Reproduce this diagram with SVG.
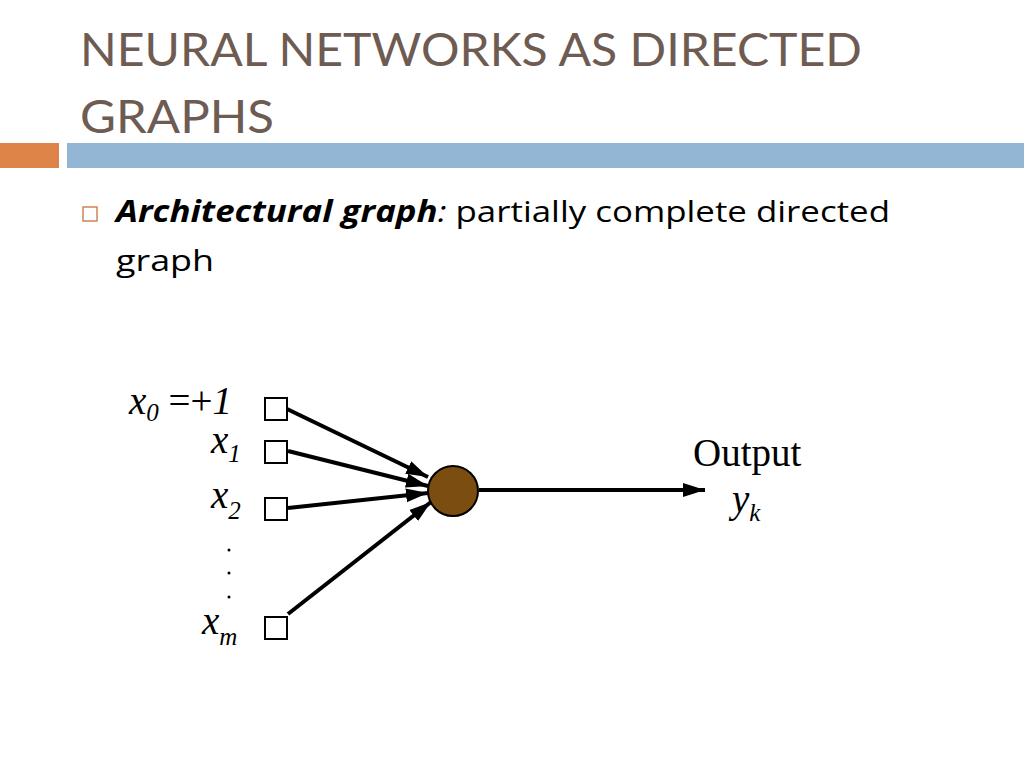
<svg xmlns="http://www.w3.org/2000/svg" width="1024" height="768" viewBox="0 0 1024 768">
<defs>
<marker id="arr" markerUnits="userSpaceOnUse" markerWidth="24" markerHeight="16" refX="22" refY="8" orient="auto">
<path d="M0,1 L22,8 L0,15 Z" fill="#000"/>
</marker>
<style>
.title{font-family:"Lato","Noto Sans",sans-serif;font-size:46px;fill:#6e5b52;}
.body{font-family:"Open Sans","Noto Sans",sans-serif;font-size:30px;fill:#000;font-variant-ligatures:none;}
.m{font-family:"Liberation Serif","Times New Roman",serif;font-size:39px;fill:#000;}
.it{font-style:italic;}
.sub{font-size:25px;font-style:italic;}
.box{fill:#fff;stroke:#000;stroke-width:2;}
.edge{stroke:#000;stroke-width:4;fill:none;marker-end:url(#arr);}
</style>
</defs>
<rect width="1024" height="768" fill="#fff"/>
<g id="title">
<text class="title" x="80" y="66" textLength="782" lengthAdjust="spacingAndGlyphs">NEURAL NETWORKS AS DIRECTED</text>
<text class="title" x="80" y="133" textLength="194" lengthAdjust="spacingAndGlyphs">GRAPHS</text>
</g>
<g id="bars">
<rect x="0" y="143" width="59" height="25" fill="#df8449"/>
<rect x="67" y="143" width="957" height="25" fill="#93b6d4"/>
</g>
<g id="bullet">
<rect x="83" y="207" width="14" height="14" fill="none" stroke="#d08558" stroke-width="1.5"/>
<text class="body" x="116" y="222" textLength="774" lengthAdjust="spacingAndGlyphs"><tspan font-weight="bold" font-style="italic">Architectural graph</tspan><tspan font-style="italic">:</tspan> partially complete directed</text>
<text class="body" x="116" y="271" textLength="98" lengthAdjust="spacingAndGlyphs">graph</text>
</g>
<g id="connectors">
<line class="edge" x1="287" y1="409" x2="428" y2="477"/>
<line class="edge" x1="288" y1="451" x2="428" y2="486"/>
<line class="edge" x1="288" y1="508" x2="428" y2="493"/>
<line class="edge" x1="288" y1="614" x2="431" y2="502"/>
<line class="edge" x1="479" y1="490" x2="705" y2="490"/>
</g>
<g id="input-x0">
<rect class="box" x="265" y="398" width="22" height="22"/>
<text class="m" x="129" y="414"><tspan class="it">x</tspan><tspan class="sub" dy="7">0</tspan><tspan dy="-7"> =+</tspan><tspan class="it">1</tspan></text>
</g>
<g id="input-x1">
<rect class="box" x="265" y="441" width="22" height="22"/>
<text class="m" x="211" y="453"><tspan class="it">x</tspan><tspan class="sub" dy="9">1</tspan></text>
</g>
<g id="input-x2">
<rect class="box" x="265" y="498" width="22" height="22"/>
<text class="m" x="211" y="508"><tspan class="it">x</tspan><tspan class="sub" dy="11">2</tspan></text>
</g>
<g id="dots">
<circle cx="229" cy="550" r="1.5" fill="#000"/>
<circle cx="229" cy="573" r="1.5" fill="#000"/>
<circle cx="229" cy="597" r="1.5" fill="#000"/>
</g>
<g id="input-xm">
<rect class="box" x="265" y="617" width="22" height="22"/>
<text class="m" x="202" y="634"><tspan class="it">x</tspan><tspan class="sub" dy="11">m</tspan></text>
</g>
<g id="neuron">
<circle cx="453" cy="491" r="25" fill="#7b4d10" stroke="#000" stroke-width="2"/>
</g>
<g id="output">
<text class="m" x="693" y="466">Output</text>
<text class="m" x="732" y="512"><tspan class="it">y</tspan><tspan class="sub" dy="9">k</tspan></text>
</g>
</svg>
